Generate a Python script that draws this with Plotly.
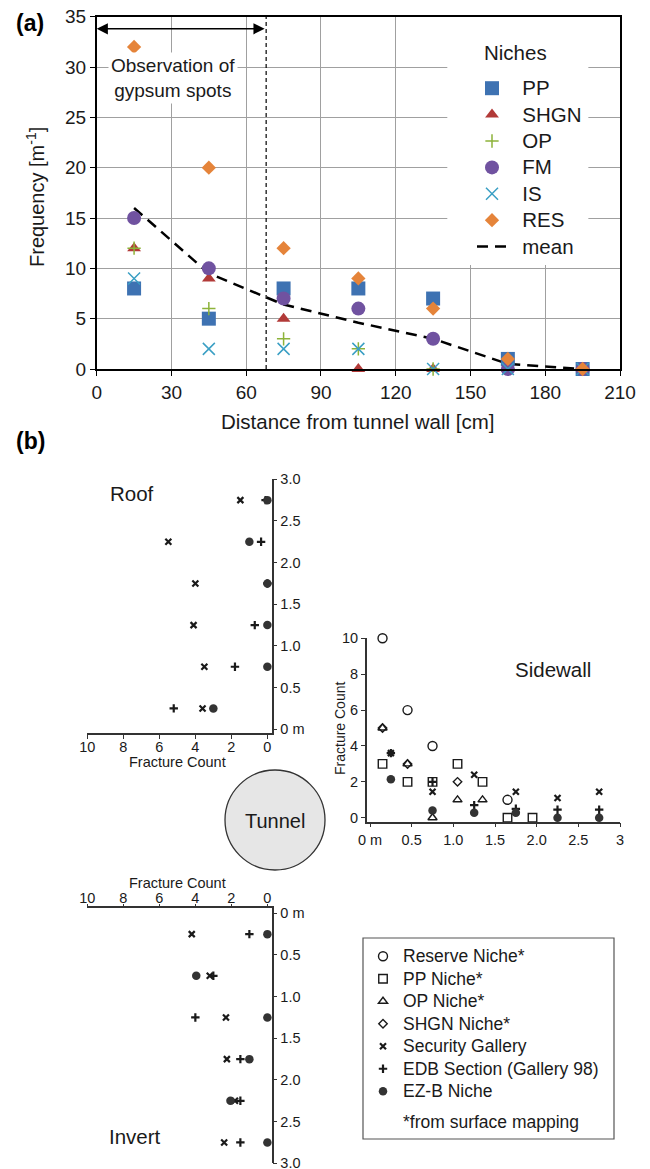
import plotly.graph_objects as go

OFF = 8  # page offset of the figure inside the browser window
W, H = 650 - OFF, 1169 - OFF
FONT = "Liberation Sans, Arial, sans-serif"


def fx(p):
    return (p - OFF) / W


def fy(p):
    return 1 - (p - OFF) / H


# ---------------- Panel (a) data ----------------
dist_cm = [15, 45, 75, 105, 135, 165, 195]
freq_PP = [8, 5, 8, 8, 7, 1, 0]
freq_SHGN = [12, 9, 5, 0, 0, 0, 0]
freq_OP = [12, 6, 3, 2, 0, 0, 0]
freq_FM = [15, 10, 7, 6, 3, 0, 0]
freq_IS = [9, 2, 2, 2, 0, 0, 0]
freq_RES = [32, 20, 12, 9, 6, 1, 0]
freq_mean = [16, 9.5, 6.4, 4.6, 3.0, 0.5, 0]
gypsum_limit_cm = 68

# ---------------- Panel (b) data ----------------
roof_dist = [0.25, 0.75, 1.25, 1.75, 2.25, 2.75]
roof_security = [3.6, 3.5, 4.1, 4.0, 5.5, 1.5]
roof_edb = [5.2, 1.8, 0.7, 0.0, 0.35, 0.1]
roof_ezb = [3.0, 0.0, 0.0, 0.0, 1.0, 0.0]

inv_dist = [0.25, 0.75, 1.25, 1.75, 2.25, 2.75]
inv_security = [4.2, 3.2, 2.3, 2.25, 1.8, 2.4]
inv_edb = [1.0, 3.0, 4.0, 1.5, 1.5, 1.5]
inv_ezb = [0.0, 3.95, 0.0, 1.0, 2.05, 0.0]

sw_reserve_x = [0.15, 0.45, 0.75, 1.65]
sw_reserve_y = [10, 6, 4, 1]
sw_pp_x = [0.15, 0.45, 0.75, 1.05, 1.35, 1.65, 1.95]
sw_pp_y = [3, 2, 2, 3, 2, 0, 0]
sw_op_x = [0.15, 0.45, 0.75, 1.05, 1.35]
sw_op_y = [5, 3, 0, 1, 1]
sw_shgn_x = [0.15, 0.45, 1.05]
sw_shgn_y = [5, 3, 2]
sw_x = [0.25, 0.75, 1.25, 1.75, 2.25, 2.75]
sw_security = [3.6, 1.45, 2.4, 1.45, 1.1, 1.45]
sw_edb = [3.6, 2.0, 0.7, 0.5, 0.45, 0.45]
sw_ezb = [2.15, 0.4, 0.28, 0.28, 0.0, 0.0]

depth_ticks = [0, 0.5, 1.0, 1.5, 2.0, 2.5, 3.0]
depth_labels = ["0 m", "0.5", "1.0", "1.5", "2.0", "2.5", "3.0"]
sw_ticks = [0, 0.5, 1.0, 1.5, 2.0, 2.5, 3.0]
sw_labels = ["0 m", "0.5", "1.0", "1.5", "2.0", "2.5", "3"]
count_ticks = [0, 2, 4, 6, 8, 10]

fig = go.Figure()


def lg_a(name):
    return '<span style="font-size:20.5px">\u2002' + name + '</span>'


def lg_b(name):
    return '<span style="font-size:17.5px">' + name + '</span>'


# ---- panel (a) traces ----
fig.add_trace(go.Scatter(x=dist_cm, y=freq_mean, mode="lines", name=lg_a("mean"),
                         line=dict(color="black", width=2.5, dash="11px,7px"),
                         legend="legend", legendrank=7, cliponaxis=False,
                         xaxis="x", yaxis="y"))
series_a = [
    ("PP", freq_PP, "square", "#3e72b2", 14, 0),
    ("SHGN", freq_SHGN, "triangle-up", "#b23a38", 12, 0),
    ("OP", freq_OP, "cross-thin", "#8db33a", 9.5, 1.5),
    ("FM", freq_FM, "circle", "#7052a0", 14, 0),
    ("IS", freq_IS, "x-thin", "#3a9fc4", 12, 1.5),
    ("RES", freq_RES, "diamond", "#e5843a", 11, 0),
]
for i, (nm, vals, sym, col, sz, lw) in enumerate(series_a):
    if lw:
        mk = dict(symbol=sym, size=sz, color=col, line=dict(color=col, width=lw))
    else:
        mk = dict(symbol=sym, size=sz, color=col, line=dict(width=0))
    fig.add_trace(go.Scatter(x=dist_cm, y=vals, mode="markers", name=lg_a(nm), marker=mk,
                             legend="legend", legendrank=i + 1, cliponaxis=False,
                             xaxis="x", yaxis="y"))

# ---- panel (b) traces ----
BLK = "#1a1a1a"
sec_mk = dict(symbol="x-thin", size=6, color=BLK, line=dict(color=BLK, width=2.2))
edb_mk = dict(symbol="cross-thin", size=6, color=BLK, line=dict(color=BLK, width=2.2))
ezb_mk = dict(symbol="circle", size=8.5, color="#333333", line=dict(width=0))


def add_b(x, y, name, mk, xa, ya, show, group):
    fig.add_trace(go.Scatter(x=x, y=y, mode="markers", name=lg_b(name), marker=mk,
                             showlegend=show, legend="legend2", legendgroup=group,
                             cliponaxis=False, xaxis=xa, yaxis=ya))


# sidewall (legend entries)
add_b(sw_reserve_x, sw_reserve_y, "Reserve Niche*",
      dict(symbol="circle-open", size=9, color=BLK, line=dict(color=BLK, width=1.4)), "x4", "y4", True, "g1")
add_b(sw_pp_x, sw_pp_y, "PP Niche*",
      dict(symbol="square-open", size=8.5, color=BLK, line=dict(color=BLK, width=1.4)), "x4", "y4", True, "g1")
add_b(sw_op_x, sw_op_y, "OP Niche*",
      dict(symbol="triangle-up-open", size=8, color=BLK, line=dict(color=BLK, width=1.4)), "x4", "y4", True, "g1")
add_b(sw_shgn_x, sw_shgn_y, "SHGN Niche*",
      dict(symbol="diamond-open", size=6.5, color=BLK, line=dict(color=BLK, width=1.4)), "x4", "y4", True, "g1")
add_b(sw_x, sw_security, "Security Gallery", sec_mk, "x4", "y4", True, "g1")
add_b(sw_x, sw_edb, "EDB Section (Gallery 98)", edb_mk, "x4", "y4", True, "g1")
add_b(sw_x, sw_ezb, "EZ-B Niche", ezb_mk, "x4", "y4", True, "g1")
fig.add_trace(go.Scatter(x=[None], y=[None], mode="markers", name=lg_b("*from surface mapping"),
                         marker=dict(color="rgba(0,0,0,0)", size=1, line=dict(width=0)),
                         legend="legend2", legendgroup="g2", xaxis="x4", yaxis="y4"))

# roof
add_b(roof_security, roof_dist, "Security Gallery", sec_mk, "x2", "y2", False, "g1")
add_b(roof_edb, roof_dist, "EDB Section (Gallery 98)", edb_mk, "x2", "y2", False, "g1")
add_b(roof_ezb, roof_dist, "EZ-B Niche", ezb_mk, "x2", "y2", False, "g1")
# invert
add_b(inv_security, inv_dist, "Security Gallery", sec_mk, "x3", "y3", False, "g1")
add_b(inv_edb, inv_dist, "EDB Section (Gallery 98)", edb_mk, "x3", "y3", False, "g1")
add_b(inv_ezb, inv_dist, "EZ-B Niche", ezb_mk, "x3", "y3", False, "g1")

# ---------------- axes ----------------
GRID = "#a0a0a0"
ax_a = dict(showgrid=True, gridcolor=GRID, gridwidth=1, showline=True, linecolor="black",
            linewidth=1.5, mirror=True, ticks="outside", ticklen=5, tickcolor="black",
            tickfont=dict(size=19, color="#1a1a1a"), zeroline=False, automargin=False,
            ticklabeloverflow="allow")
LC = "#333333"
ax_b = dict(showgrid=False, zeroline=False, showline=True, linecolor=LC, linewidth=1.5,
            ticks="outside", ticklen=4, tickwidth=1.2, tickcolor=LC, automargin=False,
            tickfont=dict(size=14.5, color="#1a1a1a"), ticklabeloverflow="allow")

fig.update_layout(
    xaxis=dict(ax_a, domain=[fx(96.7), fx(620)], range=[0, 210], tickvals=list(range(0, 211, 30)),
               anchor="y"),
    yaxis=dict(ax_a, domain=[fy(369), fy(16.7)], range=[0, 35], tickvals=list(range(0, 36, 5)),
               anchor="x"),
    # roof
    xaxis2=dict(ax_b, domain=[fx(87.3), fx(271.7)], range=[10, -0.24], tickvals=count_ticks,
                anchor="y2", side="bottom", ticklabelstandoff=-4),
    yaxis2=dict(ax_b, domain=[fy(733), fy(479.3)], range=[-0.045, 3.0], tickvals=depth_ticks,
                ticktext=depth_labels, anchor="x2", side="right"),
    # invert
    xaxis3=dict(ax_b, domain=[fx(87.3), fx(271.7)], range=[10, -0.24], tickvals=count_ticks,
                anchor="y3", side="top", ticklen=3, ticklabelstandoff=-5),
    yaxis3=dict(ax_b, domain=[fy(1163.3), fy(908.3)], range=[3.0, -0.06], tickvals=depth_ticks,
                ticktext=depth_labels, anchor="x3", side="right"),
    # sidewall
    xaxis4=dict(ax_b, domain=[fx(366.7), fx(620)], range=[-0.04, 3.0], tickvals=sw_ticks,
                ticktext=sw_labels, anchor="y4"),
    yaxis4=dict(ax_b, domain=[fy(821.7), fy(638.3)], range=[-0.22, 10], tickvals=count_ticks,
                anchor="x4", side="left"),
)

fig.update_layout(
    width=W, height=H,
    margin=dict(l=0, r=0, t=0, b=0, pad=0, autoexpand=False),
    paper_bgcolor="white", plot_bgcolor="rgba(0,0,0,0)",
    font=dict(family=FONT, color="#1a1a1a"),
    legend=dict(x=fx(472), y=fy(70), xanchor="left", yanchor="top", bgcolor="rgba(0,0,0,0)",
                borderwidth=0, font=dict(size=18), itemsizing="trace", traceorder="normal"),
    legend2=dict(x=fx(363), y=fy(940), xanchor="left", yanchor="top", bgcolor="rgba(0,0,0,0)",
                 borderwidth=0, font=dict(size=15), itemsizing="trace", traceorder="grouped",
                 tracegroupgap=8),
)

# ---------------- shapes ----------------
shapes = [
    # white area behind niches legend (hides gridlines only)
    dict(type="rect", xref="x", yref="y", x0=140.7, x1=197.3, y0=10.33, y1=35,
         fillcolor="white", line=dict(width=0), layer="between"),
    # gypsum observation limit
    dict(type="line", xref="x", yref="y", x0=gypsum_limit_cm, x1=gypsum_limit_cm, y0=0, y1=35,
         line=dict(color="black", width=1.2, dash="4px,3px")),
    # tunnel
    dict(type="circle", xref="paper", yref="paper", x0=fx(225), x1=fx(325), y0=fy(870), y1=fy(770),
         fillcolor="#e6e6e6", line=dict(color="#333333", width=1.3)),
    # legend box (b)
    dict(type="rect", xref="paper", yref="paper", x0=fx(363), x1=fx(614), y0=fy(1139), y1=fy(938),
         fillcolor="rgba(0,0,0,0)", line=dict(color="#555555", width=1.2)),
]
fig.update_layout(shapes=shapes)


# ---------------- annotations ----------------
def txt(x, y, text, size, angle=0, xanchor="center", color="#1a1a1a"):
    return dict(xref="paper", yref="paper", x=fx(x), y=fy(y), text=text, showarrow=False,
                xanchor=xanchor, yanchor="middle", textangle=angle,
                font=dict(size=size, color=color))


ann = []
ann.append(dict(xref="x", yref="y", x=0, y=33.8, ax=gypsum_limit_cm, ay=33.8, axref="x", ayref="y",
                text="", showarrow=True, arrowside="end+start", arrowhead=2, arrowsize=1.6,
                arrowwidth=1.4, arrowcolor="black", standoff=0, startstandoff=0))
ann.append(dict(xref="x", yref="y", x=30.6, y=28.9, text="Observation of<br>gypsum spots",
                showarrow=False, bgcolor="white", borderpad=2, xanchor="center", yanchor="middle",
                font=dict(size=19)))
ann.append(txt(14, 23, "<b>(a)</b>", 23, xanchor="left", color="black"))
ann.append(txt(14, 441, "<b>(b)</b>", 23, xanchor="left", color="black"))
ann.append(txt(35, 197, "Frequency [m<sup>-1</sup>]", 20, angle=-90))
ann.append(txt(358, 421, "Distance from tunnel wall [cm]", 20.5))
ann.append(txt(482, 52, "Niches", 20.5, xanchor="left"))
ann.append(txt(178, 762, "Fracture Count", 14.5))
ann.append(txt(178, 883, "Fracture Count", 14.5))
ann.append(txt(340, 728, "Fracture Count", 14, angle=-90))
ann.append(txt(132, 493, "Roof", 20.5))
ann.append(txt(135, 1136, "Invert", 20.5))
ann.append(txt(553, 669, "Sidewall", 20.5))
ann.append(txt(275, 821, "Tunnel", 20))
fig.update_layout(annotations=ann)

fig.write_html("out.html")
